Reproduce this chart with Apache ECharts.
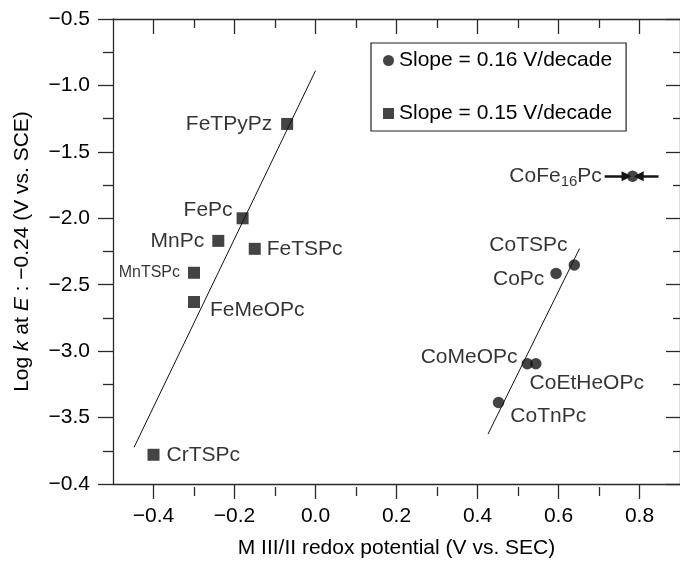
<!DOCTYPE html>
<html>
<head>
<meta charset="utf-8">
<script src="https://cdn.jsdelivr.net/npm/echarts@6/dist/echarts.min.js"></script>
<style>html,body{margin:0;padding:0;background:#fff}#c{width:680px;height:564px}</style>
</head>
<body>
<div id="c"></div>
<script>
// ---- data ----
var squareNames = ['FeTPyPz', 'FePc', 'MnPc', 'FeTSPc', 'MnTSPc', 'FeMeOPc', 'CrTSPc'];
var squareX = [-0.07, -0.18, -0.24, -0.15, -0.30, -0.30, -0.40];
var squareY = [-1.29, -2.00, -2.17, -2.23, -2.41, -2.63, -3.78];
var circleNames = ['CoFe16Pc', 'CoTSPc', 'CoPc', 'CoMeOPc', 'CoEtHeOPc', 'CoTnPc'];
var circleX = [0.783, 0.639, 0.594, 0.523, 0.544, 0.452];
var circleY = [-1.684, -2.352, -2.415, -3.095, -3.095, -3.387];
var feLineX = [-0.448, 0.0];
var feLineY = [-3.724, -0.889];
var coLineX = [0.426, 0.652];
var coLineY = [-3.624, -2.228];
var arrowLeftX = [0.714, 0.768];
var arrowRightX = [0.847, 0.798];
var legendNames = ['Slope = 0.16 V/decade', 'Slope = 0.15 V/decade'];
var xMajorTicks = [-0.4, -0.2, 0.0, 0.2, 0.4, 0.6, 0.8];
var xMinorTicks = [-0.3, -0.1, 0.1, 0.3, 0.5, 0.7];
var xTickLabels = ['\u22120.4', '\u22120.2', '0.0', '0.2', '0.4', '0.6', '0.8'];
var yTickValues = [-4.0, -3.5, -3.0, -2.5, -2.0, -1.5, -1.0, -0.5];
var yTickLabels = ['\u22120.4', '\u22123.5', '\u22123.0', '\u22122.5', '\u22122.0', '\u22121.5', '\u22121.0', '\u22120.5'];

// ---- label placement (styles, not data) ----
var labelCfg = {
  FeTPyPz: {position: 'left', distance: 9, offset: [0, 0]},
  FePc: {position: 'left', distance: 4, offset: [0, -8]},
  MnPc: {position: 'left', distance: 8, offset: [0, 0]},
  FeTSPc: {position: 'right', distance: 6, offset: [0, 0]},
  MnTSPc: {position: 'left', distance: 8, offset: [0, 0], fontSize: 16},
  FeMeOPc: {position: 'right', distance: 10, offset: [0, 8]},
  CrTSPc: {position: 'right', distance: 7, offset: [0, 0]},
  CoFe16Pc: {position: 'left', distance: 25, offset: [0, 0], rich: true},
  CoTSPc: {position: 'left', distance: 1, offset: [0, -20]},
  CoPc: {position: 'left', distance: 6, offset: [0, 6]},
  CoMeOPc: {position: 'left', distance: 4, offset: [0, -7]},
  CoEtHeOPc: {position: 'right', distance: 5, offset: [-17, 19]},
  CoTnPc: {position: 'right', distance: 6, offset: [0, 14]}
};

var FONT = '"Liberation Sans", Arial, Helvetica, sans-serif';
var TXT = '#000';
var MARK = '#151515';
var AX = '#2a2a2a';
var LW = 1.3;

function pts(names, xs, ys) {
  return names.map(function (n, i) {
    var c = labelCfg[n];
    var lab = {
      show: true, position: c.position, distance: c.distance, offset: c.offset,
      color: TXT, fontFamily: FONT, fontSize: c.fontSize || 21,
      formatter: c.rich ? '{a|CoFe}{s|16}{a|Pc}' : n
    };
    if (c.rich) {
      lab.rich = {
        a: {fontSize: 21, fontFamily: FONT, color: TXT, lineHeight: 28, verticalAlign: 'middle'},
        s: {fontSize: 15, fontFamily: FONT, color: TXT, lineHeight: 28, padding: [12, 0, 0, 0], verticalAlign: 'middle'}
      };
    }
    return {name: n, value: [xs[i], ys[i]], label: lab};
  });
}
function line(xs, ys) { return xs.map(function (x, i) { return [x, ys[i]]; }); }
function idx(arr, v) { return arr.findIndex(function (t) { return Math.abs(t - v) < 1e-6; }); }

var gridRect = {left: 113, right: -2, top: 19, bottom: 77, containLabel: false};
function xAx(extra) {
  return Object.assign({type: 'value', min: -0.5, max: 0.9, splitLine: {show: false}}, extra);
}
function tickStyle() { return {color: AX, width: LW}; }

var chart = echarts.init(document.getElementById('c'), null, {renderer: 'canvas'});
chart.setOption({
  animation: false,
  backgroundColor: '#fff',
  grid: [Object.assign({}, gridRect), Object.assign({}, gridRect)],
  legend: {
    data: legendNames, orient: 'vertical', left: 371, top: 43,
    padding: [7, 14, 7, 12], itemGap: 32, itemWidth: 11, itemHeight: 11,
    borderColor: '#222', borderWidth: 1.2, backgroundColor: '#fff',
    textStyle: {fontFamily: FONT, fontSize: 21, color: TXT, lineHeight: 21},
    selectedMode: false
  },
  xAxis: [
    xAx({gridIndex: 0, position: 'bottom',
      axisLine: {show: true, onZero: false, lineStyle: tickStyle()},
      axisTick: {show: true, inside: false, length: 15, lineStyle: tickStyle(), customValues: xMajorTicks},
      axisLabel: {customValues: xMajorTicks, margin: 22, color: TXT, fontFamily: FONT, fontSize: 21,
        formatter: function (v) { var i = idx(xMajorTicks, v); return i >= 0 ? xTickLabels[i] : ''; }},
      name: 'M III/II redox potential (V vs. SEC)', nameLocation: 'middle', nameGap: 54,
      nameTextStyle: {fontFamily: FONT, fontSize: 21, color: TXT}
    }),
    xAx({gridIndex: 0, position: 'top', axisLine: {show: true, onZero: false, lineStyle: tickStyle()},
      axisTick: {show: true, inside: true, length: 15, lineStyle: tickStyle(), customValues: xMajorTicks},
      axisLabel: {show: false, customValues: xMajorTicks}}),
    xAx({gridIndex: 1, position: 'bottom', axisLine: {show: false, onZero: false},
      axisTick: {show: true, inside: false, length: 9, lineStyle: tickStyle(), customValues: xMinorTicks},
      axisLabel: {show: false, customValues: xMinorTicks}}),
    xAx({gridIndex: 1, position: 'top', axisLine: {show: false, onZero: false},
      axisTick: {show: true, inside: true, length: 9, lineStyle: tickStyle(), customValues: xMinorTicks},
      axisLabel: {show: false, customValues: xMinorTicks}})
  ],
  yAxis: [
    {type: 'value', gridIndex: 0, min: -4.0, max: -0.5, interval: 0.5, position: 'left', splitLine: {show: false},
      axisLine: {show: true, onZero: false, lineStyle: tickStyle()},
      axisTick: {show: true, inside: false, length: 15, lineStyle: tickStyle()},
      minorTick: {show: true, splitNumber: 2, length: 10, lineStyle: tickStyle()},
      axisLabel: {margin: 23, color: TXT, fontFamily: FONT, fontSize: 21,
        formatter: function (v) { var i = idx(yTickValues, v); return i >= 0 ? yTickLabels[i] : ''; }},
      name: '{n|Log }{i|k}{n| at }{i|E}{n| : \u22120.24 (V vs. SCE)}', nameLocation: 'middle', nameGap: 80,
      nameTextStyle: {fontFamily: FONT, fontSize: 21, color: TXT,
        rich: {n: {fontFamily: FONT, fontSize: 21, color: TXT}, i: {fontFamily: FONT, fontSize: 21, color: TXT, fontStyle: 'italic'}}}
    },
    {type: 'value', gridIndex: 0, min: -4.0, max: -0.5, interval: 0.5, position: 'right', splitLine: {show: false},
      axisLine: {show: true, onZero: false, lineStyle: tickStyle()},
      axisTick: {show: true, inside: true, length: 14, lineStyle: tickStyle()},
      minorTick: {show: true, splitNumber: 2, length: 7, lineStyle: tickStyle()},
      axisLabel: {show: false}},
    {type: 'value', gridIndex: 1, min: -4.0, max: -0.5, show: false, axisLine: {onZero: false}, splitLine: {show: false}}
  ],
  series: [
    {type: 'line', xAxisIndex: 0, yAxisIndex: 0, data: line(feLineX, feLineY), symbol: 'none',
      lineStyle: {color: '#111', width: 1}, silent: true, z: 1},
    {type: 'line', xAxisIndex: 0, yAxisIndex: 0, data: line(coLineX, coLineY), symbol: 'none',
      lineStyle: {color: '#111', width: 1}, silent: true, z: 1},
    {name: legendNames[0], type: 'scatter', xAxisIndex: 0, yAxisIndex: 0, symbol: 'circle', symbolSize: 11.5,
      itemStyle: {color: MARK}, data: pts(circleNames, circleX, circleY), z: 3,
      markLine: {silent: true, symbol: ['none', 'triangle'], symbolSize: [10, 10],
        lineStyle: {color: MARK, width: 2.5, type: 'solid'}, label: {show: false},
        data: [
          [{coord: [arrowLeftX[0], circleY[0]]}, {coord: [arrowLeftX[1], circleY[0]]}],
          [{coord: [arrowRightX[0], circleY[0]]}, {coord: [arrowRightX[1], circleY[0]]}]
        ]}},
    {name: legendNames[1], type: 'scatter', xAxisIndex: 0, yAxisIndex: 0, symbol: 'rect', symbolSize: 12,
      itemStyle: {color: MARK}, data: pts(squareNames, squareX, squareY), z: 3}
  ]
});
</script>
</body>
</html>
